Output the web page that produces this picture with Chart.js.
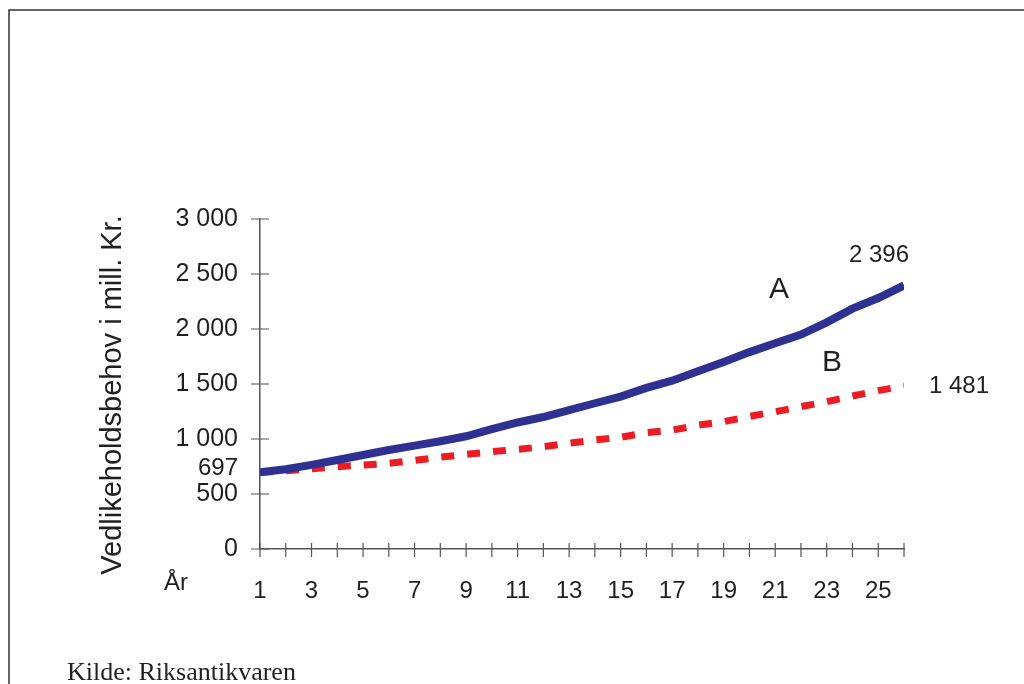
<!DOCTYPE html>
<html>
<head>
<meta charset="utf-8">
<script src="https://cdn.jsdelivr.net/npm/chart.js@4.4.1/dist/chart.umd.min.js"></script>
<style>
  html, body { margin: 0; padding: 0; background: #fff; }
  #wrap { width: 1024px; height: 684px; }
</style>
</head>
<body>
<div id="wrap"><canvas id="vedlikeholdChart" width="1024" height="684"></canvas></div>
<script>
// years 1..26
const years = [1, 2, 3, 4, 5, 6, 7, 8, 9, 10, 11, 12, 13, 14, 15, 16, 17, 18, 19, 20, 21, 22, 23, 24, 25, 26];
const seriesA = [697, 725, 765, 809, 855, 900, 940, 980, 1025, 1090, 1150, 1200, 1262, 1325, 1385, 1465, 1530, 1615, 1700, 1790, 1870, 1950, 2060, 2185, 2282, 2396];
const seriesB = [697, 712, 730, 748, 763, 779, 805, 835, 860, 885, 906, 930, 962, 991, 1015, 1058, 1080, 1125, 1158, 1205, 1248, 1294, 1339, 1391, 1440, 1481];
const yTicks = [0, 500, 1000, 1500, 2000, 2500, 3000];

const textColor = '#231f20';
const axisColor = '#555';
const sans = '"Liberation Sans", Arial, sans-serif';

function fmt(v) {
    return String(v).replace(/\B(?=(\d{3})+(?!\d))/g, ' ');
}

// frame, crossing tick marks and free text
const extras = {
    id: 'extras',
    afterDraw(chart) {
        const c = chart.ctx;
        const x = chart.scales.x;
        const y = chart.scales.y;
        c.save();

        // frame
        c.strokeStyle = '#333';
        c.lineWidth = 1.5;
        c.beginPath();
        c.moveTo(9, 684);
        c.lineTo(9, 10);
        c.lineTo(1024, 10);
        c.stroke();

        // tick marks crossing the axes
        c.strokeStyle = axisColor;
        c.lineWidth = 1.2;
        c.beginPath();
        years.forEach(v => {
            const px = x.getPixelForValue(v);
            c.moveTo(px, y.bottom - 6);
            c.lineTo(px, y.bottom + 8);
        });
        yTicks.forEach(v => {
            const py = y.getPixelForValue(v);
            c.moveTo(x.left - 9, py);
            c.lineTo(x.left + 9, py);
        });
        c.stroke();

        c.fillStyle = textColor;
        c.textBaseline = 'middle';

        // axis title
        c.save();
        c.translate(113, 395);
        c.rotate(-Math.PI / 2);
        c.textAlign = 'center';
        c.font = '29px ' + sans;
        c.fillText('Vedlikeholdsbehov i mill. Kr.', 0, 0);
        c.restore();

        c.font = '24px ' + sans;
        c.textAlign = 'center';
        c.fillText('År', 176, 583);

        // start and end values
        c.textAlign = 'right';
        c.fillText(fmt(seriesA[0]), 238, y.getPixelForValue(seriesA[0]) - 4);
        c.textAlign = 'center';
        c.fillText(fmt(seriesA[seriesA.length - 1]), 879, 255);
        c.fillText(fmt(seriesB[seriesB.length - 1]), 959, 386);

        // series names
        c.font = '30px ' + sans;
        c.fillText('A', 779, 290);
        c.fillText('B', 832, 363);

        // source
        c.textAlign = 'left';
        c.textBaseline = 'alphabetic';
        c.font = '26px "Liberation Serif", "Times New Roman", serif';
        c.fillText('Kilde: Riksantikvaren', 67, 680);
        c.restore();
    }
};

const ctx = document.getElementById('vedlikeholdChart').getContext('2d');

const vedlikeholdChart = new Chart(ctx, {
    type: 'line',
    data: {
        datasets: [{
            label: 'A',
            data: years.map((yr, i) => ({ x: yr, y: seriesA[i] })),
            borderColor: '#2e3192',
            borderWidth: 8,
            pointRadius: 0,
            tension: 0,
            borderCapStyle: 'butt'
        }, {
            label: 'B',
            data: years.map((yr, i) => ({ x: yr, y: seriesB[i] })),
            borderColor: '#ed1c24',
            borderWidth: 7,
            borderDash: [13, 13],
            pointRadius: 0,
            tension: 0,
            borderCapStyle: 'butt'
        }]
    },
    options: {
        responsive: false,
        animation: false,
        devicePixelRatio: 1,
        layout: {
            padding: { left: 0, top: 219, right: 120, bottom: 0 }
        },
        plugins: {
            legend: { display: false },
            tooltip: { enabled: false }
        },
        scales: {
            x: {
                type: 'linear',
                min: 1,
                max: 26,
                afterFit: s => { s.height = 135; },
                afterBuildTicks: s => { s.ticks = years.map(v => ({ value: v })); },
                grid: { display: true, drawOnChartArea: false, drawTicks: false },
                border: { display: true, color: axisColor, width: 1.5 },
                ticks: {
                    padding: 28,
                    maxRotation: 0,
                    autoSkip: false,
                    color: textColor,
                    font: { family: sans, size: 24 },
                    callback: v => (v % 2 === 1 ? String(v) : '')
                }
            },
            y: {
                min: 0,
                max: 3000,
                afterFit: s => { s.width = 260; },
                afterBuildTicks: s => { s.ticks = yTicks.map(v => ({ value: v })); },
                grid: { display: true, drawOnChartArea: false, drawTicks: false },
                border: { display: true, color: axisColor, width: 1.5 },
                ticks: {
                    padding: 22,
                    color: textColor,
                    font: { family: sans, size: 25 },
                    callback: v => fmt(v)
                }
            }
        }
    },
    plugins: [extras]
});
</script>
</body>
</html>
